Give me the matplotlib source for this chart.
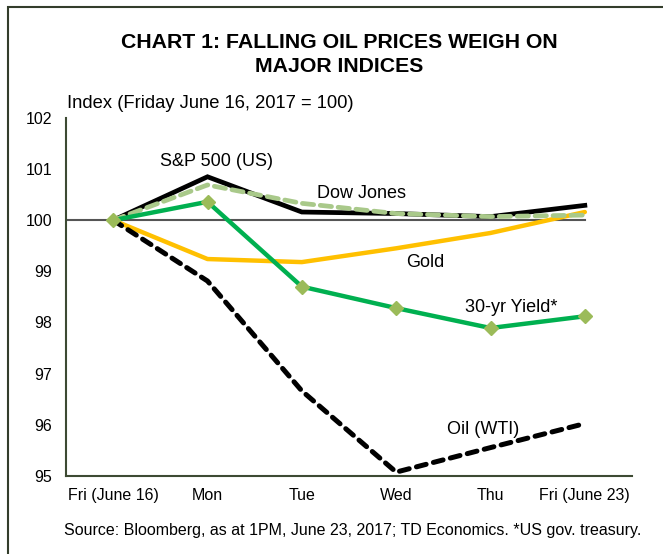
import matplotlib
matplotlib.use("Agg")
import matplotlib.pyplot as plt
from matplotlib.patches import Rectangle

plt.rcParams['font.family'] = ['Liberation Sans', 'DejaVu Sans']

categories = ["Fri (June 16)", "Mon", "Tue", "Wed", "Thu", "Fri (June 23)"]
sp500 = [100.0, 100.85, 100.16, 100.13, 100.07, 100.29]
dow = [100.0, 100.69, 100.33, 100.13, 100.07, 100.10]
gold = [100.0, 99.24, 99.18, 99.45, 99.75, 100.16]
yield30 = [100.0, 100.36, 98.70, 98.28, 97.89, 98.12]
oil = [100.0, 98.81, 96.66, 95.07, 95.55, 96.02]
yticks = [95, 96, 97, 98, 99, 100, 101, 102]

W, H = 663, 554
fig = plt.figure(figsize=(W / 100, H / 100), dpi=100)
ax = fig.add_axes([66 / W, 1 - 475.7 / H, (632 - 66) / W, (475.7 - 118) / H])

x = list(range(len(categories)))
axline_color = "#3d4a33"
ax.plot([-0.5, 5], [100, 100], color="#555555", lw=1.5, zorder=1)
ax.plot(x, gold, color="#ffc000", lw=3.2, zorder=2, solid_capstyle='round')
ax.plot(x, oil, color="black", lw=3.6, ls=(0, (2.0, 1.5)), zorder=3, dash_capstyle='round')
ax.plot(x, sp500, color="black", lw=3.4, zorder=3, solid_joinstyle='miter')
ax.plot(x, dow, color="#a9c98a", lw=3.4, ls=(0, (2.4, 1.4)), zorder=4, dash_capstyle='round')
ax.plot(x, yield30, color="#00b050", lw=3.2, marker="D", ms=7.5, mfc="#9bbb59", mec="#9bbb59", zorder=5)

ax.set_xlim(-0.5, 5.5)
ax.set_ylim(95, 102)
ax.set_yticks(yticks)
ax.set_yticklabels([str(t) for t in yticks], fontsize=11.5)
ax.set_xticks(x)
ax.set_xticklabels(categories, fontsize=11.5)
ax.tick_params(axis='both', length=0)
ax.tick_params(axis='y', pad=10)
ax.tick_params(axis='x', pad=9)
for s in ["top", "right"]:
    ax.spines[s].set_visible(False)
for s in ["left", "bottom"]:
    ax.spines[s].set_color(axline_color)
    ax.spines[s].set_linewidth(1.5)


def lab(px, py, s):
    fig.text(px / W, 1 - py / H, s, fontsize=13, ha='center', va='center')


lab(217, 162, "S&P 500 (US)")
lab(362, 193, "Dow Jones")
lab(425, 262, "Gold")
lab(511, 308, "30-yr Yield*")
lab(483, 429, "Oil (WTI)")

fig.text(67 / W, 1 - 103 / H, "Index (Friday June 16, 2017 = 100)", fontsize=13.2, ha='left', va='center')
fig.text(339 / W, 1 - 42 / H, "CHART 1: FALLING OIL PRICES WEIGH ON", fontsize=15.3,
         fontweight='bold', ha='center', va='center')
fig.text(339 / W, 1 - 67 / H, "MAJOR INDICES", fontsize=15.3, fontweight='bold', ha='center', va='center')
fig.text(353 / W, 1 - 530 / H,
         "Source: Bloomberg, as at 1PM, June 23, 2017; TD Economics. *US gov. treasury.",
         fontsize=11.5, ha='center', va='center')

fig.add_artist(Rectangle((7.5 / W, -0.1), 1.2, 1 - 7.5 / H + 0.1, transform=fig.transFigure,
                         fill=False, edgecolor="#333d2b", lw=1.5))

fig.savefig("out.png", dpi=100)
